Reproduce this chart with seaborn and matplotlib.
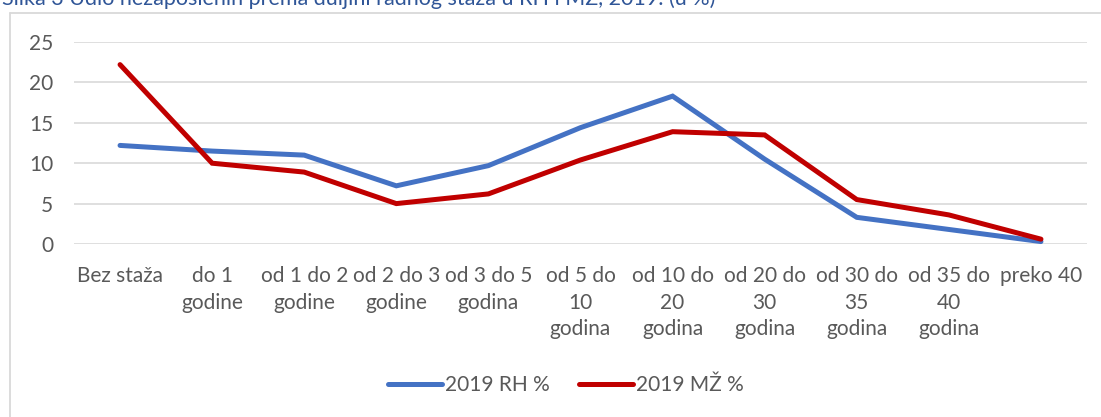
import pandas as pd
import seaborn as sns
import matplotlib.pyplot as plt
from matplotlib.lines import Line2D

# categories (duljina radnog staža) and shares in %
kategorije = ['Bez staža', 'do 1\ngodine', 'od 1 do 2\ngodine', 'od 2 do 3\ngodine',
              'od 3 do 5\ngodina', 'od 5 do\n10\ngodina', 'od 10 do\n20\ngodina',
              'od 20 do\n30\ngodina', 'od 30 do\n35\ngodina', 'od 35 do\n40\ngodina',
              'preko 40']
rh_2019 = [12.2, 11.5, 11.0, 7.2, 9.7, 14.4, 18.3, 10.5, 3.3, 1.8, 0.3]
mz_2019 = [22.2, 10.0, 8.9, 5.0, 6.2, 10.4, 13.9, 13.5, 5.5, 3.6, 0.6]
serije = ['2019 RH %', '2019 MŽ %']
boje = ['#4472C4', '#C00000']

df = pd.DataFrame({
    'kategorija': kategorije * 2,
    'udio': rh_2019 + mz_2019,
    'serija': [serije[0]] * len(kategorije) + [serije[1]] * len(kategorije),
})
df['x'] = list(range(len(kategorije))) * 2

sns.set_style('white')
plt.rcParams['font.family'] = ['Lato', 'DejaVu Sans']

fig = plt.figure(figsize=(11.01, 4.17), dpi=100)
ax = fig.add_axes([74 / 1101, 1 - 244 / 417, (1087 - 74) / 1101, (244 - 42) / 417])

sns.lineplot(data=df, x='x', y='udio', hue='serija', palette=boje,
             linewidth=3.6, ax=ax, legend=False, clip_on=False)
for ln in ax.lines:
    ln.set_solid_capstyle('round')
    ln.set_solid_joinstyle('miter')

ax.set_xlim(-0.5, len(kategorije) - 0.5)
ax.set_ylim(0, 25)
ax.set_yticks([0, 5, 10, 15, 20, 25])
ax.set_xticks(range(len(kategorije)))
ax.set_xticklabels(kategorije, ha='center', linespacing=1.4)
ax.tick_params(axis='both', length=0, labelsize=15, labelcolor='#595959')
ax.tick_params(axis='y', pad=15)
ax.tick_params(axis='x', pad=16)
ax.grid(axis='y', color='#D9D9D9', linewidth=1.2)
ax.set_axisbelow(True)
ax.set_xlabel('')
ax.set_ylabel('')
for s in ax.spines.values():
    s.set_visible(False)

# legend
handles = [Line2D([], [], color=c, linewidth=3.6, solid_capstyle='round') for c in boje]
fig.legend(handles, serije, loc='center', bbox_to_anchor=(566 / 1101, 1 - 385 / 417),
           ncol=2, frameon=False, fontsize=15, labelcolor='#595959',
           handlelength=2.6, handletextpad=0.15, columnspacing=1.4)

# chart area border (top and left visible)
fig.add_artist(Line2D([10 / 1101, 10 / 1101], [0, 1 - 13 / 417], color='#D9D9D9',
                      linewidth=1.3, transform=fig.transFigure))
fig.add_artist(Line2D([10 / 1101, 1], [1 - 13 / 417, 1 - 13 / 417], color='#D9D9D9',
                      linewidth=1.3, transform=fig.transFigure))

# caption cut off at the top
fig.text(2 / 1101, 1 + 3 / 417, 'Slika 3 Udio nezaposlenih prema duljini radnog staža u RH i MŽ, 2019. (u %)',
         color='#2F5597', fontsize=15.5, va='center', ha='left')

fig.savefig('out.png', dpi=100)
